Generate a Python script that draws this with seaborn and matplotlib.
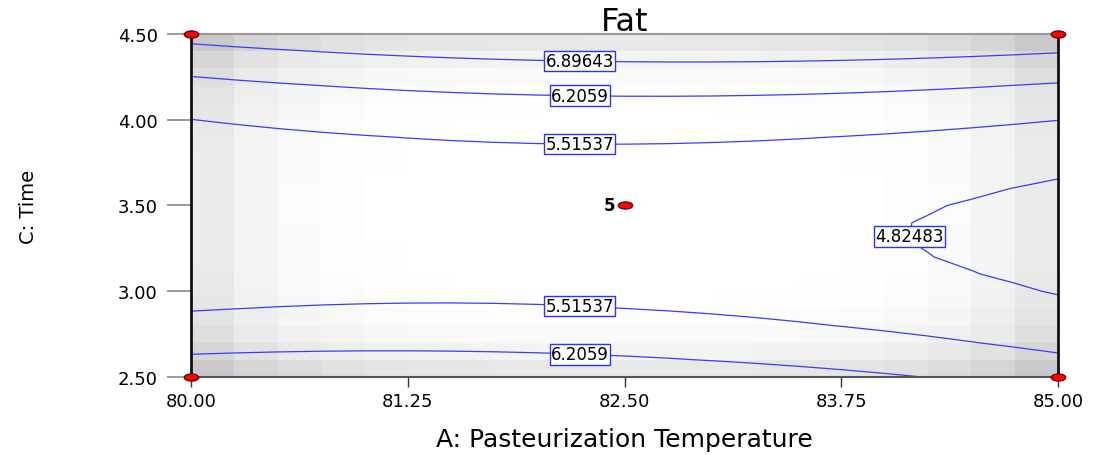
import numpy as np
import matplotlib
matplotlib.use("Agg")
import matplotlib.pyplot as plt
from matplotlib.path import Path
from matplotlib.transforms import Affine2D
import seaborn as sns

# ---------------- data ----------------
title = "Fat"
x_label = "A: Pasteurization Temperature"
y_label = "C: Time"
a_range = [80.0, 85.0]          # A: Pasteurization Temperature (actual units)
c_range = [2.5, 4.5]            # C: Time (actual units)
x_ticks = [80.00, 81.25, 82.50, 83.75, 85.00]
y_ticks = [2.50, 3.00, 3.50, 4.00, 4.50]

# quadratic response-surface model for Fat (coded units)
coef_names = ["b0", "A", "C", "AC", "A2", "C2"]
coef_values = [5.083, -0.118, 0.48, 0.25, -0.306, 2.0]

# contour levels and their printed labels
contour_levels = [4.82483, 5.51537, 6.2059, 6.89643]
contour_texts = ["4.82483", "5.51537", "6.2059", "6.89643"]

# design-space shading (grey darkness, 0-255 scale)
shade_names = ["A6", "C6", "A2C2"]
shade_values = [27.2, 31.0, 14.7]

# design points
design_A = [80.0, 80.0, 85.0, 85.0, 82.5]
design_C = [2.5, 4.5, 2.5, 4.5, 3.5]
center_runs_label = "5"

# ---------------- figure ----------------
sns.set_style("white")
plt.rcParams["font.family"] = ["DejaVu Sans"]
plt.rcParams["text.color"] = "black"
plt.rcParams["axes.labelcolor"] = "black"
plt.rcParams["axes.titlecolor"] = "black"

fig = plt.figure(figsize=(10.99, 4.56), dpi=100)
ax = fig.add_axes([0.1738, 0.1711, 0.9627 - 0.1738, 0.9232 - 0.1711])

b = dict(zip(coef_names, coef_values))
s = dict(zip(shade_names, shade_values))

def to_coded(A, C):
    a = (A - (a_range[0] + a_range[1]) / 2) / ((a_range[1] - a_range[0]) / 2)
    c = (C - (c_range[0] + c_range[1]) / 2) / ((c_range[1] - c_range[0]) / 2)
    return a, c

# shading cells (20 x 20)
ncell = 20
A_edges = np.linspace(a_range[0], a_range[1], ncell + 1)
C_edges = np.linspace(c_range[0], c_range[1], ncell + 1)
A_cent = (A_edges[:-1] + A_edges[1:]) / 2
C_cent = (C_edges[:-1] + C_edges[1:]) / 2
AA, CC = np.meshgrid(A_cent, C_cent)
aa, cc = to_coded(AA, CC)
dark = s["A6"] * aa**6 + s["C6"] * cc**6 + s["A2C2"] * aa**2 * cc**2
bright = np.clip((255 - dark) / 255.0, 0, 1)
ax.pcolormesh(A_edges, C_edges, bright, cmap="gray", vmin=0, vmax=1,
              shading="flat", zorder=1)

# response surface on a 21 x 21 node grid
An = np.linspace(a_range[0], a_range[1], ncell + 1)
Cn = np.linspace(c_range[0], c_range[1], ncell + 1)
AN, CN = np.meshgrid(An, Cn)
an, cn = to_coded(AN, CN)
fat = (b["b0"] + b["A"] * an + b["C"] * cn + b["AC"] * an * cn
       + b["A2"] * an**2 + b["C2"] * cn**2)

cs = ax.contour(AN, CN, fat, levels=contour_levels, colors="#3b3bff",
                linewidths=0.9, zorder=3)
label_pos = [(82.243, 4.378), (82.243, 4.179), (82.243, 3.899),
             (82.243, 2.926), (82.243, 2.646), (84.043, 3.340)]
fmt = dict(zip(contour_levels, contour_texts))
labels = ax.clabel(cs, fmt=fmt, manual=label_pos, inline=False,
                   fontsize=12, colors="black")
for t in labels:
    t.set_rotation(0)
    t.set_zorder(6)
    t.set_bbox(dict(boxstyle="square,pad=0.08", fc="white", ec="#3030ff", lw=1.0))

# design points
ellipse = Path.unit_circle().transformed(Affine2D().scale(1.0, 0.5))
sns.scatterplot(x=design_A, y=design_C, ax=ax, marker=ellipse, s=110,
                color="red", edgecolor="#4a0000", linewidth=0.8,
                clip_on=False, zorder=10, legend=False)
ax.annotate(center_runs_label, (design_A[4], design_C[4]), xytext=(-7, 0),
            textcoords="offset points", ha="right", va="center",
            fontsize=12, fontweight="bold", zorder=11)

# axes styling
ax.set_xlim(a_range)
ax.set_ylim(c_range)
ax.set_xticks(x_ticks)
ax.set_yticks(y_ticks)
ax.set_xticklabels([f"{v:.2f}" for v in x_ticks])
ax.set_yticklabels([f"{v:.2f}" for v in y_ticks])
ax.tick_params(axis="x", length=7.5, width=1.0, color="#333333", pad=3,
               labelsize=13, labelcolor="black", bottom=True)
ax.tick_params(axis="y", length=17, width=1.2, color="#8a8a8a", pad=7,
               labelsize=13, labelcolor="black", left=True)

for side in ["left", "right"]:
    ax.spines[side].set_color("#111111")
    ax.spines[side].set_linewidth(2.0)
ax.spines["top"].set_color("#999999")
ax.spines["top"].set_linewidth(1.5)
ax.spines["bottom"].set_color("#555555")
ax.spines["bottom"].set_linewidth(1.5)
for sp in ax.spines.values():
    sp.set_visible(True)
    sp.set_zorder(5)

ax.set_title(title, fontsize=23, pad=3)
ax.set_xlabel(x_label, fontsize=18, va="center")
ax.xaxis.set_label_coords(0.5, -0.181)
ax.set_ylabel(y_label, fontsize=14, va="center", ha="center")
ax.yaxis.set_label_coords(-0.188, 0.5)

fig.savefig("out.png", dpi=100)
